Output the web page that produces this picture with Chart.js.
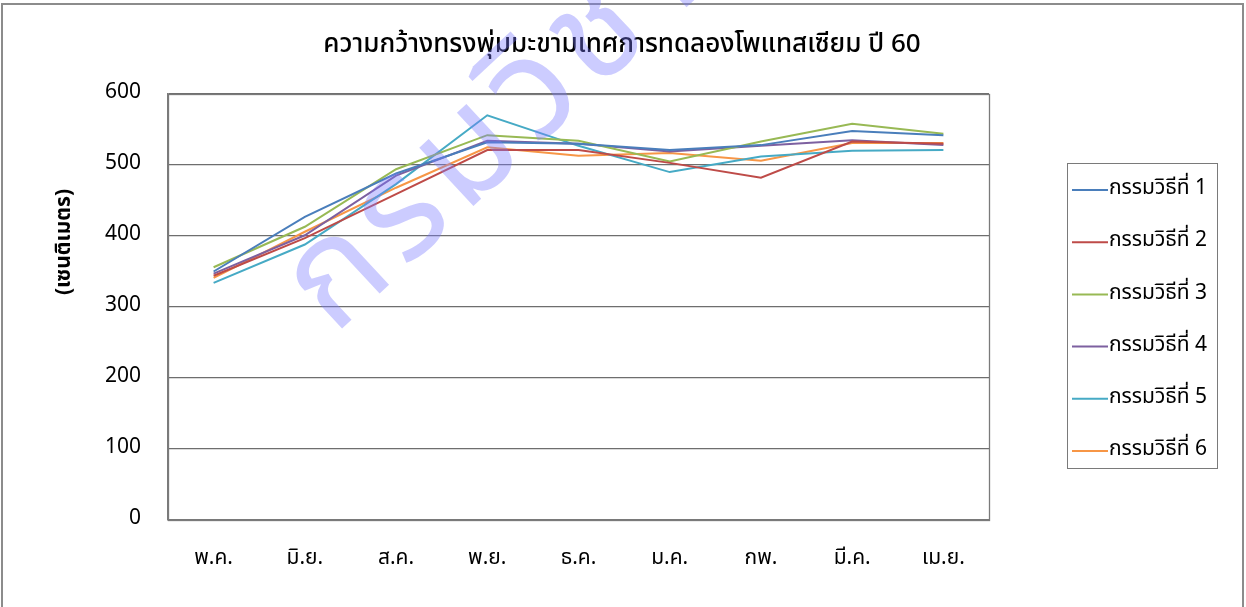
<!DOCTYPE html>
<html>
<head>
<meta charset="utf-8">
<script src="https://cdn.jsdelivr.net/npm/chart.js@4/dist/chart.umd.min.js"></script>
<style>
  html, body { margin: 0; padding: 0; background: #ffffff; }
  #wrap { width: 1246px; height: 607px; position: relative; }
</style>
</head>
<body>
<div id="wrap"><canvas id="c" width="1246" height="607"></canvas></div>
<script>
// Months of the trial (x-axis categories)
const months = ['พ.ค.', 'มิ.ย.', 'ส.ค.', 'พ.ย.', 'ธ.ค.', 'ม.ค.', 'กพ.', 'มี.ค.', 'เม.ย.'];

// Treatment names
const seriesNames = ['กรรมวิธีที่ 1', 'กรรมวิธีที่ 2', 'กรรมวิธีที่ 3', 'กรรมวิธีที่ 4', 'กรรมวิธีที่ 5', 'กรรมวิธีที่ 6'];

// Canopy width (cm) per treatment
const treatment1 = [350, 427, 488, 532, 530, 521, 528, 548, 542];
const treatment2 = [344, 397, 459, 521, 521, 503, 482, 533, 530];
const treatment3 = [356, 413, 494, 542, 534, 505, 533, 558, 544];
const treatment4 = [347, 401, 485, 534, 530, 519, 527, 535, 528];
const treatment5 = [334, 388, 473, 570, 527, 490, 512, 520, 521];
const treatment6 = [341, 406, 468, 525, 513, 517, 506, 531, 531];

// Y-axis tick values
const yTicks = [0, 100, 200, 300, 400, 500, 600];

const seriesColors = ['#4A7EBB', '#BE4B48', '#98B954', '#7D60A0', '#46AAC5', '#F79646'];
const seriesValues = [treatment1, treatment2, treatment3, treatment4, treatment5, treatment6];

const THAI_FONT = 'Tahoma, "Noto Sans Thai", "Noto Sans Thai UI", Garuda, Loma, "Noto Sans", sans-serif';

const chartTitle = 'ความกว้างทรงพุ่มมะขามเทศการทดลองโพแทสเซียม ปี 60';
const yTitle = '(เซนติเมตร)';
const watermarkText = 'กรมวิชาการเกษตร';

const decorPlugin = {
  id: 'decor',
  beforeDatasetsDraw(chart) {
    const { ctx, chartArea: a } = chart;
    ctx.save();
    ctx.strokeStyle = '#7a7a7a';
    ctx.lineWidth = 1.3;
    ctx.strokeRect(Math.round(a.left) + 0.5, Math.round(a.top) + 0.5,
                   Math.round(a.right - a.left), Math.round(a.bottom - a.top));
    ctx.restore();
  },
  afterDraw(chart) {
    const { ctx, chartArea: a } = chart;
    ctx.save();

    // outer frame
    ctx.strokeStyle = '#8c8c8c';
    ctx.lineWidth = 2;
    ctx.strokeRect(2, 4, chart.width - 5, chart.height + 20);

    // title
    ctx.fillStyle = '#000000';
    ctx.font = '500 26px ' + THAI_FONT;
    ctx.textAlign = 'center';
    ctx.textBaseline = 'middle';
    ctx.fillText(chartTitle, 622, 47);

    // y-axis title
    ctx.save();
    ctx.translate(66, 242);
    ctx.rotate(-Math.PI / 2);
    ctx.font = 'bold 21px ' + THAI_FONT;
    ctx.fillText(yTitle, 0, 0);
    ctx.restore();

    // legend
    const bx = a.right + 78, by = a.top + 69, bw = 150, bh = 305;
    ctx.strokeStyle = '#7a7a7a';
    ctx.lineWidth = 1;
    ctx.strokeRect(Math.round(bx) + 0.5, Math.round(by) + 0.5, bw, bh);
    ctx.font = '21px ' + THAI_FONT;
    ctx.textAlign = 'left';
    chart.data.datasets.forEach((ds, i) => {
      const y = by + 27 + i * 52.2;
      ctx.strokeStyle = ds.borderColor;
      ctx.lineWidth = 2;
      ctx.beginPath();
      ctx.moveTo(bx + 5, y);
      ctx.lineTo(bx + 41, y);
      ctx.stroke();
      ctx.fillStyle = '#000000';
      ctx.fillText(ds.label, bx + 42, y);
    });

    // watermark
    ctx.save();
    ctx.translate(334, 336);
    ctx.rotate(-43 * Math.PI / 180);
    ctx.font = '145px ' + THAI_FONT;
    ctx.letterSpacing = '10px';
    ctx.fillStyle = 'rgba(120, 120, 255, 0.38)';
    ctx.textAlign = 'left';
    ctx.textBaseline = 'alphabetic';
    ctx.fillText(watermarkText, 0, 0);
    ctx.restore();

    ctx.restore();
  }
};

new Chart(document.getElementById('c'), {
  type: 'line',
  data: {
    labels: months,
    datasets: seriesValues.map((vals, i) => ({
      label: seriesNames[i],
      data: vals,
      borderColor: seriesColors[i],
      backgroundColor: seriesColors[i],
      borderWidth: 2,
      pointRadius: 0,
      tension: 0,
      fill: false
    }))
  },
  options: {
    responsive: false,
    animation: false,
    layout: { padding: { top: 94, right: 257, bottom: 0, left: 0 } },
    plugins: {
      legend: { display: false },
      title: { display: false },
      tooltip: { enabled: false }
    },
    scales: {
      x: {
        offset: true,
        grid: { display: false, drawTicks: false },
        border: { display: true, color: '#7a7a7a', width: 1.3 },
        ticks: { color: '#000000', font: { family: THAI_FONT, size: 21 }, padding: 27, maxRotation: 0 },
        afterFit(scale) { scale.height = 87; }
      },
      y: {
        min: 0, max: 600,
        afterBuildTicks(scale) { scale.ticks = yTicks.map(v => ({ value: v })); },
        grid: { color: '#6e6e6e', lineWidth: 1.3, drawTicks: false },
        border: { display: true, color: '#7a7a7a', width: 1.3 },
        ticks: { color: '#000000', font: { family: THAI_FONT, size: 21 }, padding: 27 },
        afterFit(scale) { scale.width = 168; }
      }
    }
  },
  plugins: [decorPlugin]
});
</script>
</body>
</html>
